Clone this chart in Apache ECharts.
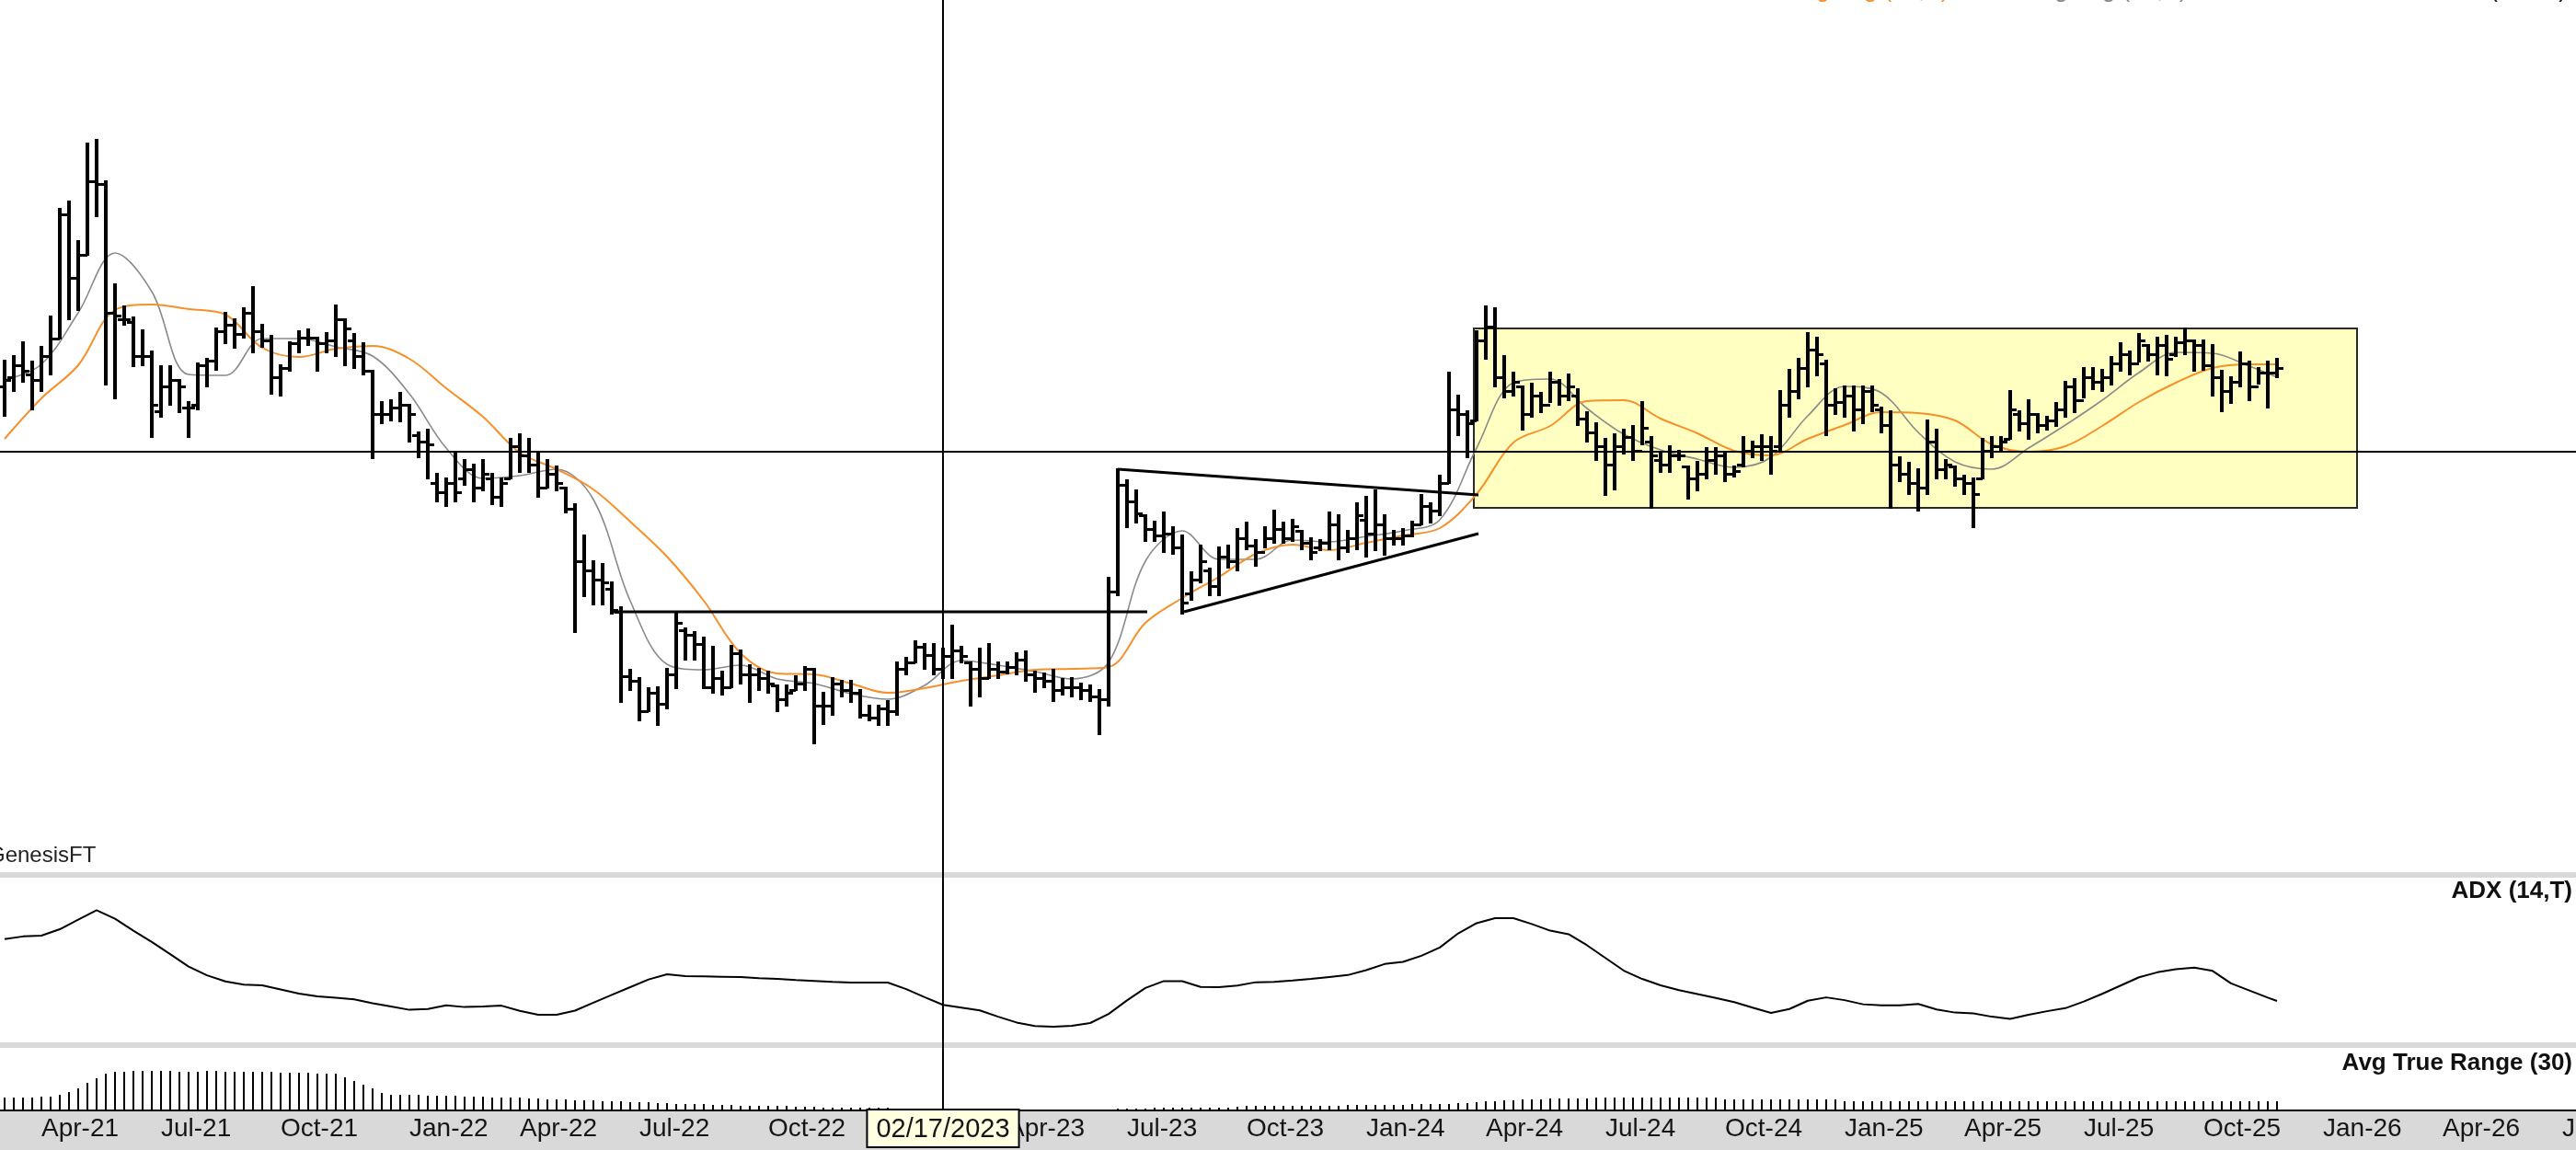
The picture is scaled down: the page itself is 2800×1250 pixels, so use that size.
<!DOCTYPE html>
<html>
<head>
<meta charset="utf-8">
<script src="https://cdn.jsdelivr.net/npm/echarts@6/dist/echarts.min.js"></script>
<style>
  html, body { margin: 0; padding: 0; background: #d9d9d9; }
  #chart { width: 2800px; height: 1250px; }
</style>
</head>
<body>
<div id="chart"></div>
<script>
// ---------- DATA ----------
const firstWeek = '2021-03-05';       // first weekly bar (Friday)
const weekSlots = 280;                // weekly slots shown on the time axis
const crossDate = '2023-02-17';       // crosshair date
const crossPrice = 44.9;              // crosshair price level

const tickLabels = ['Apr-21','Jul-21','Oct-21','Jan-22','Apr-22','Jul-22','Oct-22','Jan-23','Apr-23','Jul-23','Oct-23',
  'Jan-24','Apr-24','Jul-24','Oct-24','Jan-25','Apr-25','Jul-25','Oct-25','Jan-26','Apr-26','Jul-26'];

// study legends (cut off by the top edge in the original)
const legendSlow = 'Moving Avg (20,E)';
const legendFast = 'Moving Avg (10,S)';
const legendPrice = 'Price (Close)';

const opens = [
  52.0,53.0,54.3,53.3,52.7,55.3,57.2,70.7,63.8,66.3, 74.3,74.0,60.0,59.3,59.0,55.3,55.3,49.3,52.0,52.7,
  49.7,50.0,54.3,54.8,58.0,58.7,57.7,60.0,58.0,57.0, 53.0,54.0,56.7,57.3,57.3,56.7,57.0,59.3,57.0,55.3,
  53.7,49.0,49.0,49.7,50.0,46.7,46.0,41.5,40.5,41.5, 42.0,43.0,41.0,42.0,40.0,42.0,45.5,44.5,43.5,41.0,
  42.5,41.0,38.7,33.0,32.0,31.0,30.0,27.5,20.5,20.0, 16.7,18.7,17.5,20.7,25.5,25.0,24.0,19.3,20.3,19.3,
  23.0,20.7,20.7,20.3,19.5,18.0,19.0,19.7,21.3,17.3, 17.3,19.7,19.0,18.7,16.3,16.0,17.0,16.7,21.3,22.0,
  23.7,22.8,21.3,22.7,23.3,22.0,21.3,20.3,21.3,21.0, 21.5,22.3,20.7,20.3,20.0,19.0,19.3,19.3,19.0,18.3,
  18.0,29.7,41.3,39.5,38.0,36.5,35.8,36.0,34.5,29.5, 31.0,32.0,30.3,33.5,33.0,35.5,34.7,34.0,35.5,36.5,
  35.5,36.3,35.0,34.5,35.0,37.0,34.5,35.5,37.5,36.0, 37.0,35.5,35.5,35.8,37.0,39.0,38.5,41.5,49.5,49.0,
  48.3,57.0,58.5,53.0,51.5,52.0,49.0,51.0,50.0,52.5, 51.0,51.0,48.5,47.0,45.5,43.5,45.5,46.5,45.0,46.0,
  44.0,43.5,44.5,43.3,42.0,42.5,44.0,44.5,42.5,43.5, 45.0,45.5,45.5,45.5,50.0,51.5,54.0,56.0,54.5,50.0,
  50.3,51.0,49.5,51.5,49.5,47.8,43.5,42.5,41.5,41.0, 46.0,43.0,43.3,42.0,41.5,42.0,45.0,45.5,46.3,49.0,
  48.0,49.0,47.8,48.3,49.5,52.0,50.5,53.0,52.5,53.0, 54.5,55.5,54.5,56.5,55.5,56.5,55.5,56.8,57.0,56.5,
  54.3,53.0,51.5,52.5,54.5,52.0,53.5,53.5
];
const highs = [
  54.8,55.3,56.8,54.7,56.3,59.6,71.3,72.1,67.8,78.4, 78.8,74.3,63.1,60.7,59.5,58.1,55.8,54.2,54.2,52.7,
  50.3,54.5,55.0,58.3,60.0,59.3,60.5,62.8,58.7,57.5, 54.3,56.8,58.0,58.2,57.3,57.8,60.8,59.3,57.7,56.7,
  53.7,50.3,50.5,51.3,50.0,47.0,47.3,42.5,42.0,44.8, 44.0,43.5,44.0,42.5,42.0,46.3,46.8,46.3,44.7,44.0,
  43.3,41.0,39.2,35.8,33.0,32.7,30.7,28.0,21.2,20.3, 19.2,19.3,21.3,27.3,25.7,25.3,24.7,23.7,21.0,23.8,
  23.3,21.7,21.3,21.0,19.5,19.5,20.5,21.5,21.3,18.7, 20.3,20.0,20.0,19.0,17.3,17.3,17.8,22.0,22.5,24.3,
  24.0,24.0,23.5,26.0,23.7,22.0,23.5,24.0,22.0,22.0, 23.0,23.2,21.0,20.8,21.2,20.2,20.3,19.7,19.5,19.0,
  31.2,43.0,41.8,40.7,38.0,37.3,38.3,36.7,35.8,31.8, 34.7,32.2,34.5,34.7,36.5,37.2,35.3,36.7,38.5,37.2,
  37.5,36.3,35.5,35.3,38.3,38.0,36.3,39.3,40.0,40.7, 38.0,36.3,36.5,37.3,40.2,39.3,42.3,53.5,51.0,49.3,
  58.0,60.7,60.5,55.3,53.5,52.0,52.3,51.3,53.5,52.7, 53.3,51.7,49.2,48.0,46.3,46.8,47.3,47.7,50.3,46.5,
  44.7,45.5,45.0,43.3,43.8,45.3,45.3,44.7,43.3,46.5, 46.0,46.7,46.5,51.5,53.8,55.0,57.8,57.3,54.8,51.7,
  52.0,52.0,52.0,52.0,49.7,49.3,44.3,43.7,43.0,48.3, 47.3,44.0,43.3,42.3,42.0,46.3,46.5,46.5,51.5,49.3,
  50.5,49.0,48.7,50.2,52.5,52.8,54.0,54.0,53.8,55.2, 56.7,55.8,57.7,56.5,57.3,57.5,57.3,58.3,57.0,57.0,
  56.5,53.7,53.0,55.7,54.7,54.0,54.7,55.0
];
const lows = [
  48.8,51.5,52.5,49.5,51.5,53.3,57.2,59.3,60.3,66.3, 70.5,52.2,50.7,58.7,54.2,54.3,46.5,48.7,50.0,49.2,
  46.5,49.5,52.0,53.8,56.7,56.2,57.3,55.7,56.3,51.2, 51.0,53.7,55.7,56.5,53.7,55.7,55.3,54.3,54.0,53.3,
  44.2,48.0,48.3,48.2,46.0,44.3,42.0,39.5,39.0,39.5, 41.3,39.5,40.7,39.2,39.0,42.0,42.7,42.7,40.0,41.0,
  40.7,38.3,25.3,29.2,28.3,28.3,27.3,17.7,19.0,15.7, 16.7,15.2,17.0,19.2,22.3,22.3,19.2,18.7,18.5,19.3,
  19.7,17.7,19.0,18.7,16.7,17.3,19.0,19.0,13.2,15.3, 16.3,18.3,17.7,16.0,15.7,15.2,15.2,16.3,20.7,22.0,
  21.3,20.7,20.3,20.3,22.0,17.3,18.3,20.3,20.3,20.8, 20.7,20.0,18.8,19.3,17.8,18.5,18.3,18.0,17.8,14.2,
  17.3,29.3,36.7,37.2,35.2,35.2,34.0,33.8,27.3,28.8, 30.7,29.3,29.3,32.3,32.0,34.3,32.5,34.5,35.0,35.0,
  35.2,34.3,33.2,34.2,34.3,33.2,34.0,34.3,33.5,34.2, 33.7,34.8,34.8,35.7,37.0,37.2,38.0,41.5,46.7,44.3,
  48.3,55.0,52.0,50.8,51.0,47.3,48.7,49.2,50.3,50.0, 50.5,47.8,46.0,44.0,40.2,40.8,44.7,44.0,45.7,38.8,
  42.7,42.7,44.0,39.8,40.7,42.0,42.5,41.7,42.2,43.3, 44.3,44.0,42.5,45.0,48.7,50.7,52.0,53.2,46.7,49.0,
  48.7,47.2,48.0,49.3,47.0,38.8,41.7,40.3,38.5,40.3, 42.0,42.0,41.2,40.3,36.7,42.0,44.3,45.0,46.3,47.2,
  46.3,47.0,47.3,47.7,48.7,49.2,50.8,51.7,51.5,52.2, 53.7,53.3,54.7,54.8,53.3,53.2,55.3,55.5,53.7,53.8,
  51.0,49.3,50.2,52.0,50.5,52.3,49.7,53.0
];
const closes = [
  52.7,54.3,53.7,52.7,55.3,57.2,70.7,63.8,66.3,74.3, 74.0,60.0,59.7,59.3,55.3,55.3,50.0,52.0,52.7,52.0,
  49.7,54.3,54.8,58.0,58.7,57.7,60.0,58.0,57.0,53.0, 54.0,56.7,57.3,57.3,56.7,57.0,59.3,58.3,55.3,53.7,
  49.0,49.0,49.7,50.0,49.0,46.0,45.7,40.5,41.5,40.5, 43.0,41.0,42.5,40.0,41.5,45.5,44.5,43.5,41.0,42.5,
  41.5,38.7,33.0,32.0,31.0,30.7,27.7,20.5,20.0,16.7, 18.7,17.5,20.7,26.3,25.0,24.0,19.3,20.3,19.3,23.0,
  20.7,20.7,20.3,19.7,18.0,18.7,19.7,21.3,17.3,17.3, 19.7,19.0,18.7,16.3,16.0,17.0,16.7,21.3,22.0,23.7,
  22.8,21.3,22.7,23.3,22.7,21.3,20.3,21.3,21.0,21.5, 22.3,20.7,20.3,20.0,19.0,19.3,19.3,19.0,18.3,18.0,
  29.7,41.3,39.5,38.2,36.5,35.8,36.0,34.5,28.5,31.0, 33.0,30.3,33.5,33.0,35.5,34.7,34.0,35.5,36.5,35.5,
  36.8,35.0,34.0,35.0,37.0,34.5,35.5,38.0,36.0,37.0, 35.5,35.5,35.8,37.0,39.0,38.5,41.5,49.5,49.0,48.0,
  57.0,58.5,53.0,51.5,52.5,49.0,51.0,50.0,52.5,51.0, 52.0,48.5,47.0,45.5,43.5,45.5,46.5,45.0,47.5,44.5,
  43.5,44.5,44.5,42.0,42.5,44.0,44.5,42.5,42.8,45.0, 45.5,45.5,45.0,50.0,51.5,54.0,56.0,55.5,50.0,50.3,
  51.0,49.5,51.5,50.0,47.8,43.5,42.5,41.5,41.0,46.0, 43.0,43.5,42.0,41.5,40.3,45.0,45.5,46.0,49.5,48.0,
  49.0,47.8,48.3,49.5,52.0,50.5,53.0,52.5,53.0,54.5, 55.5,54.5,57.0,55.5,56.5,55.0,56.8,57.0,56.5,54.3,
  53.0,51.5,52.5,54.5,52.0,53.5,53.5,54.0
];

// moving averages read every 4 weeks (last point = last bar)
const maFast = [52.7,54.4,60.0,66.5,62.3,53.3,53.2,57.2,57.2,56.3,55.3,51.2,45.3,42.0,42.3,43.0,39.7,28.7,21.8,21.2,
  21.7,20.2,19.7,18.6,18.0,19.5,22.2,21.7,21.0,20.2,22.0,33.0,36.3,33.2,33.2,35.3,35.1,35.7,36.3,37.5,
  45.3,52.4,52.8,49.6,46.8,45.1,44.1,43.2,44.3,48.8,52.0,51.3,47.0,43.8,43.0,45.3,47.8,50.5,53.5,55.7,
  55.6,54.2,53.0];
const maSlow = [46.3,50.7,54.3,60.3,60.9,60.4,59.8,56.2,55.2,56.1,56.4,55.0,51.8,48.7,44.8,43.0,40.8,37.3,33.5,28.7,
  23.0,20.8,20.7,19.7,18.7,19.2,20.0,20.6,21.2,21.3,21.5,26.3,29.0,31.3,33.8,34.8,34.2,35.0,35.8,36.6,
  40.3,45.9,47.7,50.4,50.5,48.5,46.9,45.0,44.5,46.3,47.8,49.2,49.1,48.3,45.7,44.9,45.5,47.7,50.3,52.4,
  54.0,54.4,54.4];

// ADX (14,T) read every 2 weeks (last point = last bar)
const adx = [36.7,37.7,38.0,40.3,43.8,47.2,44.1,39.8,35.7,31.3, 26.8,23.6,21.4,20.2,20.0,18.5,17.0,16.0,15.5,14.9,
  13.5,12.3,11.1,11.4,12.7,12.1,12.3,12.6,10.7,9.3, 9.3,10.8,13.7,16.5,19.3,22.1,24.0,23.3,23.2,23.1,
  23.0,22.6,22.3,21.9,21.6,21.2,21.0,21.0,21.0,18.6, 15.7,12.9,11.9,10.9,8.6,6.5,5.2,5.0,5.3,6.3,
  9.6,14.5,19.0,21.5,21.5,19.4,19.3,19.9,21.1,21.2, 21.7,22.3,23.0,23.7,25.5,27.7,28.5,30.7,33.7,38.8,
  42.5,44.3,44.3,42.2,39.8,38.5,34.5,29.9,25.3,22.3, 20.0,18.2,16.8,15.4,13.9,11.9,10.0,11.4,14.4,15.6,
  14.6,13.1,12.7,12.7,13.2,11.2,10.1,9.8,8.6,7.8, 9.3,10.6,11.7,14.1,16.9,19.9,22.9,24.7,25.8,26.4,
  25.2,20.7,18.1,15.5,14.3];

// Avg True Range (30), one value per week
const atr = [1.4,1.4,1.4,1.4,1.5,1.5,1.7,2.0,2.4,3.0,3.5,4.0,
  4.2,4.2,4.3,4.3,4.3,4.3,4.3,4.2,4.2,4.2,4.3,4.3,4.2,4.2,4.2,4.2,4.2,4.2,4.1,4.1,4.1,4.1,4.0,4.0,4.0,
  3.6,3.2,2.8,2.4,1.9, 1.7,1.7,1.7,1.7,1.6,1.6,1.6,1.6, 1.5,1.5,1.5,1.4,1.4,1.4,1.4,1.3,
  1.3,1.2,1.2,1.2,1.1,1.1, 1.1,1.0,1.0,1.0,0.9,0.9,0.9, 0.8,0.8,0.7,0.7,0.7,0.7,
  0.6,0.6,0.6,0.5,0.5,0.5,0.5,0.5,0.5,0.4, 0.4,0.4,0.3,0.3,0.3,0.3,0.3,0.3,0.3,0.3,
  0,0,0,0,0,0,0,0,0,0,0,0,0,0,0,0,0,0,0,0,0,0,0,0,
  0.2,0.2,0.2,0.2,0.3,0.3,0.3,0.3,0.3,0.3,0.3,0.3,0.3,0.4,
  0.5,0.5,0.5,0.5,0.5,0.5,0.5,0.5,0.5,0.5,0.5, 0.6,0.6,0.6,0.6,0.6,0.6,0.6, 0.7,0.7,0.7,0.7,0.7, 0.8,0.8,
  0.9,1.0,1.0,1.1,1.1,1.2, 1.2,1.2,1.3,1.3,1.3,1.3,1.3,1.4,1.4,
  1.4,1.4,1.4,1.4,1.4,1.4,1.4,1.4,1.4,1.4,1.4,1.4,
  1.2,1.2,1.2,1.2,1.2,1.2,1.2,1.2,1.2,1.2,1.2,1.2,1.2,
  1.0,1.0,1.0,1.0,1.0,1.0,1.0,1.0,1.0,1.0,1.0,1.0,1.0,1.0,1.0,1.0,1.0,1.0,1.0,1.0,1.0,1.0,1.0,1.0,
  1.0,1.0,1.0,1.0,1.0,1.0,1.0,1.0,1.0,1.0,1.0,1.0,1.0,1.0,1.0,1.0,1.0,1.0,1.0,1.0,1.0,1.0,1.0,1.0];

// drawn studies: [week position, price]
const triangleTop = [[121.0, 43.0], [160.2, 40.2]];
const triangleBottom = [[128.2, 27.5], [160.2, 36.0]];
const neckline = [[66.2, 27.5], [124.2, 27.5]];
const rangeBox = [[159.7, 58.3], [255.7, 38.8]];

// ---------- BUILD ----------
const FONT = "'Liberation Sans', Arial, sans-serif";
const MONTHS = ['Jan','Feb','Mar','Apr','May','Jun','Jul','Aug','Sep','Oct','Nov','Dec'];
const weeks = [];
{
  const t0 = Date.parse(firstWeek + 'T00:00:00Z');
  for (let k = 0; k < weekSlots; k++) weeks.push(new Date(t0 + k * 7 * 86400000).toISOString().slice(0, 10));
}
function quarterLabel(d) {
  const [y, m, day] = d.split('-').map(Number);
  if (day > 7) return '';
  const s = MONTHS[m - 1] + '-' + String(y).slice(2);
  return tickLabels.includes(s) ? s : '';
}
function usDate(d) { const [y, m, day] = d.split('-'); return m + '/' + day + '/' + y; }

const nBars = closes.length;
const lastIdx = nBars - 1;
const ohlc = [];
for (let i = 0; i < nBars; i++) ohlc.push([weeks[i], opens[i], highs[i], lows[i], closes[i]]);
const fastData = maFast.map((v, k) => [weeks[Math.min(k * 4, lastIdx)], v]);
const slowData = maSlow.map((v, k) => [weeks[Math.min(k * 4, lastIdx)], v]);
const adxData = adx.map((v, k) => [weeks[Math.min(k * 2, lastIdx)], v]);
const atrData = atr.map((v, i) => [weeks[i], v]);

function renderOHLC(params, api) {
  const x = api.value(0);
  const o = api.coord([x, api.value(1)]);
  const h = api.coord([x, api.value(2)]);
  const l = api.coord([x, api.value(3)]);
  const c = api.coord([x, api.value(4)]);
  const cx = Math.round(h[0]);
  const oy = Math.round(o[1]) + 0.5;
  const cy = Math.round(c[1]) + 0.5;
  const t = 5;
  return {
    type: 'group',
    children: [
      { type: 'line', shape: { x1: cx, y1: Math.round(h[1]) - 1, x2: cx, y2: Math.round(l[1]) + 1 },
        style: { stroke: '#000', lineWidth: 4 } },
      { type: 'line', shape: { x1: cx - 2 - t, y1: oy, x2: cx, y2: oy }, style: { stroke: '#000', lineWidth: 3 } },
      { type: 'line', shape: { x1: cx, y1: cy, x2: cx + 2 + t, y2: cy }, style: { stroke: '#000', lineWidth: 3 } }
    ]
  };
}

const chart = echarts.init(document.getElementById('chart'), null, { renderer: 'canvas' });
const gridBase = { left: 0, right: 0, containLabel: false, outerBoundsMode: 'none', borderWidth: 0 };
const studyLine = (data) => ({
  type: 'line', xAxisIndex: 1, yAxisIndex: 0, data, symbol: 'none', z: 6, silent: true,
  lineStyle: { color: '#000', width: 3 }
});
const legendStyle = (color) => ({ fontFamily: FONT, fontSize: 26, fontWeight: 'normal', color });

chart.setOption({
  animation: false,
  backgroundColor: '#d9d9d9',
  title: [
    { text: legendSlow, left: 1905, top: -23, padding: 0, textStyle: legendStyle('#f5902a') },
    { text: legendFast, left: 2164, top: -23, padding: 0, textStyle: legendStyle('#8a8a8a') },
    { text: legendPrice, right: 10, top: -23, padding: 0, textStyle: legendStyle('#111') },
    { text: 'GenesisFT', left: -13, top: 918, padding: 0,
      textStyle: { fontFamily: FONT, fontSize: 24, fontWeight: 'normal', color: '#222' } },
    { text: 'ADX (14,T)', right: 4, top: 956, padding: 0,
      textStyle: { fontFamily: FONT, fontSize: 26, fontWeight: 'bold', color: '#111' } },
    { text: 'Avg True Range (30)', right: 4, top: 1143, padding: 0,
      textStyle: { fontFamily: FONT, fontSize: 26, fontWeight: 'bold', color: '#111' } }
  ],
  grid: [
    Object.assign({ top: 0, height: 948, show: true, backgroundColor: '#ffffff' }, gridBase),
    Object.assign({ top: 954, height: 179, show: true, backgroundColor: '#ffffff' }, gridBase),
    Object.assign({ top: 1139, height: 68, show: true, backgroundColor: '#ffffff' }, gridBase),
    Object.assign({ top: 0, height: 1207, show: false }, gridBase)
  ],
  xAxis: [
    { type: 'category', gridIndex: 0, data: weeks, show: false },
    { type: 'value', gridIndex: 0, min: -0.5, max: weekSlots - 0.5, show: false },
    { type: 'category', gridIndex: 1, data: weeks, show: false },
    { type: 'category', gridIndex: 2, data: weeks, position: 'bottom',
      axisLine: { lineStyle: { color: '#000', width: 2 } },
      axisTick: { show: false }, splitLine: { show: false },
      axisLabel: {
        interval: (i, v) => quarterLabel(v) !== '',
        formatter: (v) => quarterLabel(v),
        align: 'left', margin: 6, fontSize: 28, color: '#151515', fontFamily: FONT,
        hideOverlap: false
      } },
    { type: 'category', gridIndex: 3, data: weeks, position: 'bottom', z: 20,
      axisLine: { show: false }, axisTick: { show: false }, splitLine: { show: false },
      axisLabel: {
        interval: (i, v) => v === crossDate,
        formatter: (v) => v === crossDate ? '{box|' + usDate(v) + '}' : '',
        margin: 0, align: 'center',
        rich: { box: { backgroundColor: '#ffffe1', borderColor: '#000', borderWidth: 2,
          padding: [6, 9, 4, 9], fontSize: 29, color: '#151515', fontFamily: FONT } }
      } }
  ],
  yAxis: [
    { type: 'value', gridIndex: 0, min: -0.8, max: 94, show: false },
    { type: 'value', gridIndex: 1, min: -0.7, max: 59, show: false },
    { type: 'value', gridIndex: 2, min: 0, max: 6.8, show: false },
    { type: 'value', gridIndex: 3, min: 0, max: 1, show: false }
  ],
  series: [
    { name: 'box', type: 'line', xAxisIndex: 1, yAxisIndex: 0, data: rangeBox, symbol: 'none', z: 1, silent: true,
      lineStyle: { opacity: 0 },
      markArea: { silent: true, itemStyle: { color: '#ffffc2', borderColor: '#2a2a2a', borderWidth: 2 },
        data: [[{ coord: rangeBox[0] }, { coord: rangeBox[1] }]] },
      markLine: { silent: true, symbol: 'none', label: { show: false },
        lineStyle: { color: '#000', width: 2, type: 'solid' }, data: [{ yAxis: crossPrice }] } },
    { name: 'MA fast', type: 'line', xAxisIndex: 0, yAxisIndex: 0, data: fastData, symbol: 'none', smooth: 0.35, z: 3,
      lineStyle: { color: '#8a8a8a', width: 1.6 } },
    { name: 'MA slow', type: 'line', xAxisIndex: 0, yAxisIndex: 0, data: slowData, symbol: 'none', smooth: 0.35, z: 3,
      lineStyle: { color: '#f5902a', width: 2 } },
    { name: 'Price', type: 'custom', xAxisIndex: 0, yAxisIndex: 0, data: ohlc, renderItem: renderOHLC, z: 5,
      encode: { x: 0, y: [1, 2, 3, 4] }, silent: true },
    Object.assign({ name: 'triangle top' }, studyLine(triangleTop)),
    Object.assign({ name: 'triangle bottom' }, studyLine(triangleBottom)),
    Object.assign({ name: 'neckline' }, studyLine(neckline)),
    { name: 'ADX', type: 'line', xAxisIndex: 2, yAxisIndex: 1, data: adxData, symbol: 'none',
      lineStyle: { color: '#000', width: 2 }, silent: true },
    { name: 'ATR', type: 'bar', xAxisIndex: 3, yAxisIndex: 2, data: atrData, barWidth: 2,
      itemStyle: { color: '#000' }, silent: true },
    { name: 'crosshair', type: 'line', xAxisIndex: 4, yAxisIndex: 3, data: [], z: 10, silent: true,
      markLine: { silent: true, symbol: 'none', label: { show: false },
        lineStyle: { color: '#000', width: 2, type: 'solid' }, data: [{ xAxis: crossDate }] } }
  ]
});
</script>
</body>
</html>
